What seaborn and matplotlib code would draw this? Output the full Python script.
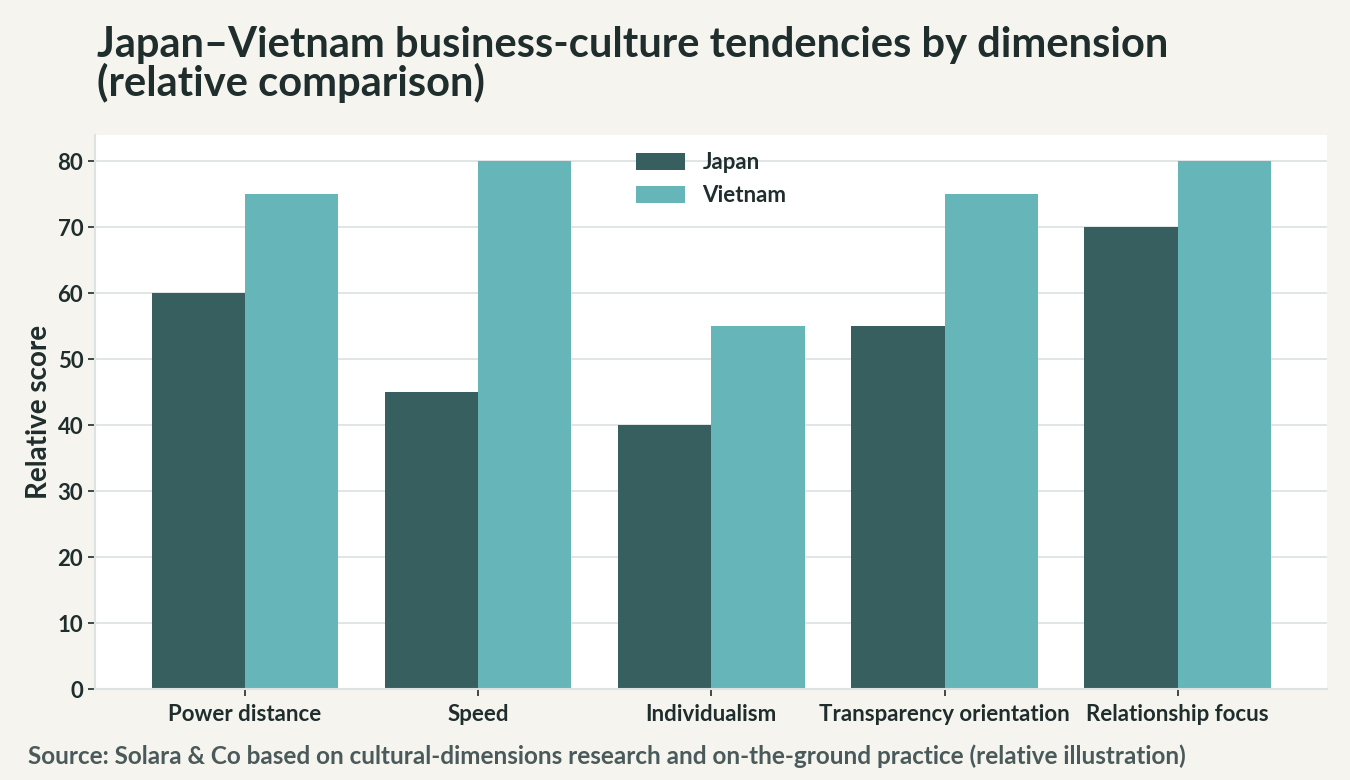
import numpy as np
import pandas as pd
import matplotlib
matplotlib.use("Agg")
import matplotlib.pyplot as plt
import seaborn as sns

# data
dimensions = ["Power distance", "Speed", "Individualism",
              "Transparency orientation", "Relationship focus"]
japan = [60, 45, 40, 55, 70]
vietnam = [75, 80, 55, 75, 80]
countries = ["Japan", "Vietnam"]

df = pd.DataFrame({"Dimension": dimensions, "Japan": japan, "Vietnam": vietnam})
long_df = df.melt(id_vars="Dimension", var_name="Country", value_name="Score")

sns.set_theme(style="whitegrid")
plt.rcParams["font.family"] = ["Lato", "DejaVu Sans"]

text_dark = "#1f2d2d"
grid_col = "#dde3e3"
bg = "#f5f4ef"

fig = plt.figure(figsize=(13.5, 7.8), dpi=100, facecolor=bg)
ax = fig.add_axes([95 / 1350, 1 - 689 / 780, (1327 - 95) / 1350, (689 - 135) / 780])
ax.set_facecolor("white")

sns.barplot(data=long_df, x="Dimension", y="Score", hue="Country",
            hue_order=countries, palette=["#375f5f", "#66b5b8"],
            width=0.8, saturation=1, linewidth=0, ax=ax, zorder=2)

ax.set_ylim(0, 84)
ax.set_xlim(-0.643, 4.64)
ax.set_yticks(range(0, 81, 10))
ax.grid(axis="y", color=grid_col, linewidth=1.3, zorder=0)
ax.grid(axis="x", visible=False)
ax.set_axisbelow(True)
for s in ["top", "right"]:
    ax.spines[s].set_visible(False)
for s in ["left", "bottom"]:
    ax.spines[s].set_color(grid_col)
    ax.spines[s].set_linewidth(1.5)

ax.tick_params(axis="both", colors=text_dark, labelsize=16, length=5, width=1.2,
               direction="out", left=True, bottom=True)
ax.tick_params(axis="x", pad=6)
for lbl in ax.get_xticklabels() + ax.get_yticklabels():
    lbl.set_fontweight("bold")
    lbl.set_color(text_dark)

ax.set_xlabel("")
ax.set_ylabel("Relative score", fontsize=20, fontweight="bold", color=text_dark, labelpad=4)

leg = ax.legend(loc="upper center", frameon=False, fontsize=16, handlelength=2.2,
                handleheight=0.8, labelspacing=0.55, bbox_to_anchor=(0.5, 1.005))
for t in leg.get_texts():
    t.set_fontweight("bold")
    t.set_color(text_dark)

fig.text(97 / 1350, 1 - 26 / 780,
         "Japan\u2013Vietnam business-culture tendencies by dimension\n(relative comparison)",
         ha="left", va="top", fontsize=30, fontweight="bold", color=text_dark,
         linespacing=0.98)
fig.text(28 / 1350, 1 - 756 / 780,
         "Source: Solara & Co based on cultural-dimensions research and on-the-ground practice (relative illustration)",
         ha="left", va="center", fontsize=17.5, fontweight="bold", color="#4a5a5a")

fig.savefig("out.png", dpi=100, facecolor=bg)
